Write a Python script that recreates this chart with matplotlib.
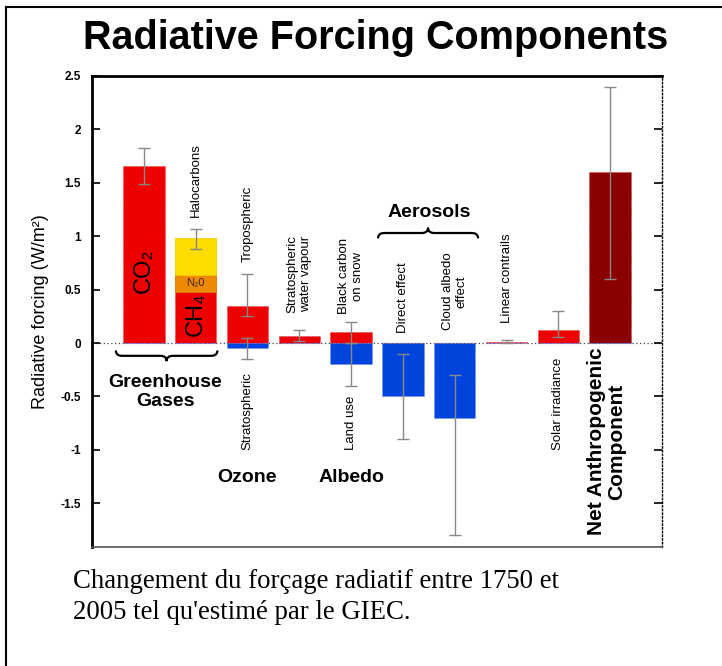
import matplotlib
matplotlib.use("Agg")
import matplotlib.pyplot as plt
import numpy as np
from matplotlib.path import Path
from matplotlib.patches import PathPatch
from matplotlib.lines import Line2D

plt.rcParams['font.family'] = ['Liberation Sans', 'DejaVu Sans']

# bar values (W/m2)
positive = [1.66, 0.48, 0.35, 0.07, 0.10, 0.0, 0.0, 0.01, 0.12, 1.60]
negative = [0.0, 0.0, -0.05, 0.0, -0.20, -0.50, -0.70, 0.0, 0.0, 0.0]
pos_colors = ['#ee0000'] * 9 + ['#8b0000']
neg_color = '#0044dd'

# halocarbon stack on top of CH4 (position 2)
n2o = 0.16
halocarbons = 0.34

# error bars: (centre, low, high) for each mark
err_x = [1, 2, 3, 3, 4, 5, 5, 6, 7, 8, 9, 10]
err_c = [1.66, 0.98, 0.35, -0.05, 0.07, 0.10, -0.20, -0.50, -0.70, 0.01, 0.12, 1.60]
err_lo = [1.49, 0.88, 0.25, -0.15, 0.02, 0.00, -0.40, -0.90, -1.80, 0.003, 0.06, 0.60]
err_hi = [1.83, 1.07, 0.65, 0.05, 0.12, 0.20, 0.00, -0.10, -0.30, 0.03, 0.30, 2.40]

# rotated labels above / below the bars
up_labels = [(2, 1.18, 'Halocarbons'), (3, 0.76, 'Tropospheric'),
             (4, 0.28, 'Stratospheric\nwater vapour'), (5, 0.27, 'Black carbon\non snow'),
             (6, 0.09, 'Direct effect'), (7, 0.12, 'Cloud albedo\neffect'),
             (8, 0.19, 'Linear contrails')]
down_labels = [(3, 'Stratospheric'), (5, 'Land use'), (9, 'Solar irradiance')]

yticks = [-1.5, -1, -0.5, 0, 0.5, 1, 1.5, 2, 2.5]
ytick_labels = ['-1.5', '-1', '-0.5', '0', '0.5', '1', '1.5', '2', '2.5']

x = np.arange(1, len(positive) + 1)

fig = plt.figure(figsize=(7.22, 6.66), dpi=100)
ax = fig.add_axes([92 / 722, 1 - 547 / 666, 570 / 722, 471 / 666])

w = 0.8
ax.bar(x, positive, w, color=pos_colors, edgecolor='#cc3333', linestyle=':', linewidth=0.6, zorder=2)
ax.bar(x, negative, w, color=neg_color, edgecolor='#6688ee', linestyle=':', linewidth=0.6, zorder=2)
ax.bar(2, n2o, w, bottom=positive[1], color='#ee8800', edgecolor='#dd7700', linewidth=0.6, zorder=2)
ax.bar(2, halocarbons, w, bottom=positive[1] + n2o, color='#ffdd00', edgecolor='#eecc00',
       linewidth=0.6, zorder=2)

err_c = np.array(err_c)
yerr = [err_c - np.array(err_lo), np.array(err_hi) - err_c]
ax.errorbar(err_x, err_c, yerr=yerr, fmt='none', ecolor='#888888', elinewidth=1.0,
            capsize=4.5, capthick=1.0, zorder=3)

ax.axhline(0, color='#444444', linestyle=(0, (1, 2)), linewidth=0.9, zorder=1)

for xi, yi, s in up_labels:
    ax.text(xi, yi, s, rotation=90, ha='center', va='bottom', fontsize=9.5,
            multialignment='center')
for xi, s in down_labels:
    ax.text(xi, -1.0, s, rotation=90, ha='center', va='bottom', fontsize=9.5)

ax.text(1, 0.68, 'CO₂', rotation=90, ha='center', va='center', fontsize=17)
ax.text(2, 0.27, 'CH₄', rotation=90, ha='center', va='center', fontsize=17)
ax.text(2, 0.56, 'N₂0', ha='center', va='center', fontsize=8, color='#442200')

ax.text(9.93, -1.8, 'Net Anthropogenic\nComponent', rotation=90, ha='center', va='bottom',
        fontsize=15, fontweight='bold', multialignment='center', linespacing=1.05)

ax.text(1.42, -0.46, 'Greenhouse\nGases', ha='center', va='center', fontsize=14,
        fontweight='bold', linespacing=1.2)
ax.text(3, -1.26, 'Ozone', ha='center', va='center', fontsize=14, fontweight='bold')
ax.text(5, -1.26, 'Albedo', ha='center', va='center', fontsize=14, fontweight='bold')
ax.text(6.5, 1.22, 'Aerosols', ha='center', va='center', fontsize=14, fontweight='bold')


def brace(x0, x1, y, d):
    # curly brace from x0 to x1, tip pointing in the direction of d
    xm = (x0 + x1) / 2
    r = 0.12
    verts = [(x0, y - d), (x0, y), (x0 + r, y),
             (xm - r, y), (xm, y), (xm, y + d),
             (xm, y), (xm + r, y),
             (x1 - r, y), (x1, y), (x1, y - d)]
    codes = [Path.MOVETO, Path.CURVE3, Path.CURVE3,
             Path.LINETO, Path.CURVE3, Path.CURVE3,
             Path.CURVE3, Path.CURVE3,
             Path.LINETO, Path.CURVE3, Path.CURVE3]
    ax.add_patch(PathPatch(Path(verts, codes), fill=False, lw=1.6, color='black',
                           clip_on=False))


brace(0.46, 2.42, -0.12, -0.05)
brace(5.52, 7.45, 1.03, 0.05)

ax.set_xlim(0, 11)
ax.set_ylim(-1.91, 2.5)
ax.set_xticks([])
ax.set_yticks(yticks)
ax.set_yticklabels(ytick_labels, fontsize=8.5, fontweight='bold')
ax.tick_params(axis='y', direction='in', length=6, width=1.2, right=True, pad=8)
ax.set_ylabel('Radiative forcing (W/m²)', fontsize=13, labelpad=8)

ax.spines['left'].set_linewidth(2)
ax.spines['top'].set_linewidth(2)
ax.spines['right'].set_linewidth(1)
ax.spines['right'].set_linestyle(':')
ax.spines['bottom'].set_linewidth(1.2)
ax.spines['bottom'].set_color('#555555')

fig.text(376 / 722, 1 - 38 / 666, 'Radiative Forcing Components', ha='center', va='center',
         fontsize=28.5, fontweight='bold')
fig.text(73 / 722, 1 - 569 / 666, "Changement du forçage radiatif entre 1750 et\n"
         "2005 tel qu'estimé par le GIEC.", ha='left', va='top', fontsize=19.3,
         family='Liberation Serif', linespacing=1.3)

# outer frame
fig.add_artist(Line2D([6 / 722, 1.0], [1 - 7 / 666, 1 - 7 / 666], color='black', lw=1.5))
fig.add_artist(Line2D([6 / 722, 6 / 722], [0, 1 - 7 / 666], color='black', lw=1.5))

fig.savefig('out.png', dpi=100)
